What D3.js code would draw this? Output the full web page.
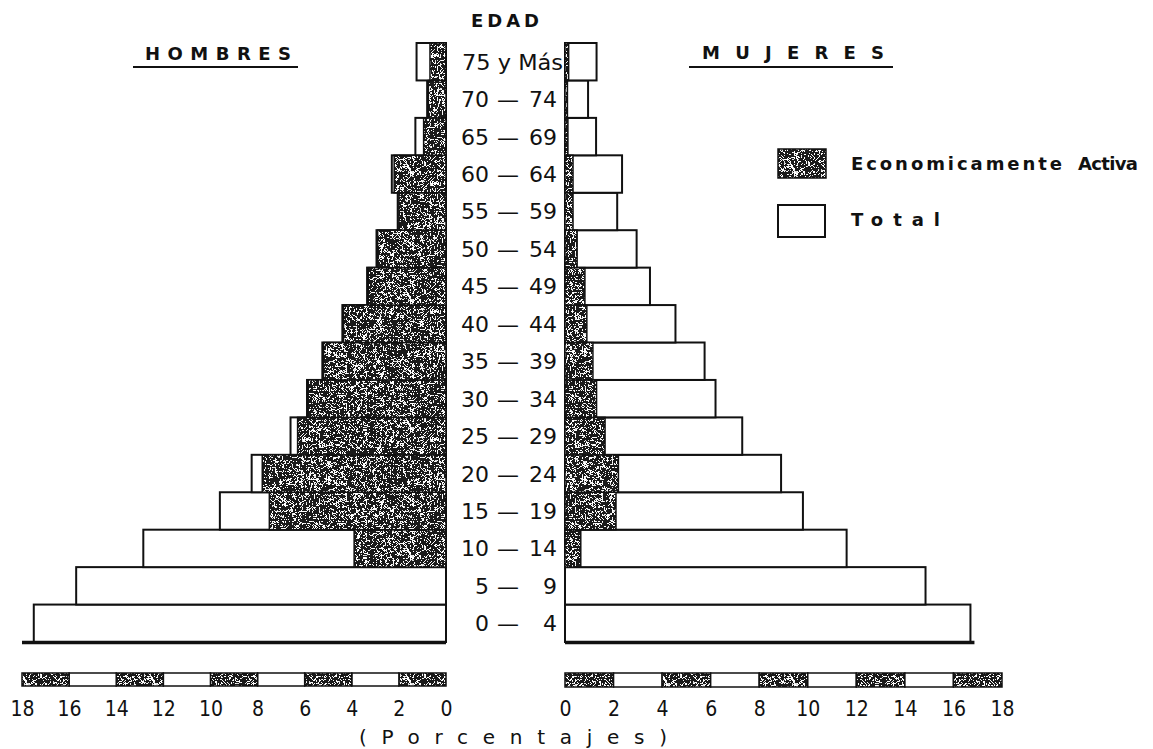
<!DOCTYPE html>
<html>
<head>
<meta charset="utf-8">
<script src="https://cdn.jsdelivr.net/npm/d3@7/dist/d3.min.js"></script>
<style>
  html, body { margin: 0; padding: 0; background: #fff; }
  svg { display: block; }
  text { font-family: "DejaVu Sans", sans-serif; fill: #111; }
</style>
</head>
<body>
<script>
// ---- Data (percentages) ----
const ageGroups = ["0 – 4", "5 – 9", "10 – 14", "15 – 19", "20 – 24", "25 – 29", "30 – 34", "35 – 39",
                   "40 – 44", "45 – 49", "50 – 54", "55 – 59", "60 – 64", "65 – 69", "70 – 74", "75 y Más"];
const maleTotal    = [17.5, 15.7, 12.85, 9.6, 8.25, 6.6, 5.9, 5.25, 4.4, 3.35, 2.95, 2.05, 2.3, 1.3, 0.8, 1.25];
const maleActive   = [0, 0, 3.9, 7.5, 7.8, 6.3, 5.85, 5.2, 4.35, 3.3, 2.9, 2.0, 2.2, 0.95, 0.75, 0.68];
const femaleTotal  = [16.7, 14.85, 11.6, 9.8, 8.9, 7.3, 6.2, 5.75, 4.55, 3.5, 2.95, 2.15, 2.35, 1.28, 0.95, 1.3];
const femaleActive = [0, 0, 0.65, 2.1, 2.2, 1.65, 1.3, 1.15, 0.9, 0.82, 0.5, 0.33, 0.33, 0.12, 0.1, 0.15];
const tickValues   = [0, 2, 4, 6, 8, 10, 12, 14, 16, 18];
const legendLabels = ["Economicamente", "Activa", "Total"];

// ---- SVG ----
const W = 1153, H = 749;
const svg = d3.select("body").append("svg").attr("width", W).attr("height", H);
const defs = svg.append("defs");

// worm-like scanned texture
const T = 128;
const f = defs.append("filter").attr("id", "worms")
  .attr("filterUnits", "userSpaceOnUse").attr("primitiveUnits", "userSpaceOnUse")
  .attr("x", 0).attr("y", 0).attr("width", T).attr("height", T);
f.append("feTurbulence").attr("type", "turbulence").attr("baseFrequency", 0.3)
  .attr("numOctaves", 1).attr("seed", 7).attr("stitchTiles", "stitch").attr("result", "n");
f.append("feColorMatrix").attr("in", "n").attr("type", "matrix")
  .attr("values", "0 0 0 0 1  0 0 0 0 1  0 0 0 0 1  -11 0 0 0 1.25").attr("result", "w");
const ct = f.append("feComponentTransfer").attr("in", "w").attr("result", "wt");
ct.append("feFuncA").attr("type", "discrete").attr("tableValues", "0 0 0.85 1");
f.append("feComposite").attr("in", "wt").attr("in2", "SourceGraphic").attr("operator", "in");

const pat = defs.append("pattern").attr("id", "tex").attr("patternUnits", "userSpaceOnUse")
  .attr("width", T).attr("height", T);
pat.append("rect").attr("width", T).attr("height", T).attr("fill", "#1a1a1a");
pat.append("rect").attr("width", T).attr("height", T).attr("fill", "#fff").attr("filter", "url(#worms)");

// ---- Scales ----
const xL = d3.scaleLinear().domain([0, 18]).range([446, 22]);
const xR = d3.scaleLinear().domain([0, 18]).range([565, 1002]);
const y = d3.scaleBand().domain(ageGroups).range([642, 43]).padding(0);
const bw = y.bandwidth();

const stroke = "#111";

// ---- Male bars ----
const gM = svg.append("g");
gM.selectAll("rect.tot").data(ageGroups).join("rect")
  .attr("x", (d, i) => xL(maleTotal[i])).attr("y", d => y(d))
  .attr("width", (d, i) => xL(0) - xL(maleTotal[i])).attr("height", bw)
  .attr("fill", "#fff").attr("stroke", stroke).attr("stroke-width", 2);
gM.selectAll("rect.act").data(ageGroups.filter((d, i) => maleActive[i] > 0)).join("rect")
  .attr("x", d => xL(maleActive[ageGroups.indexOf(d)])).attr("y", d => y(d))
  .attr("width", d => xL(0) - xL(maleActive[ageGroups.indexOf(d)])).attr("height", bw)
  .attr("fill", "url(#tex)").attr("stroke", stroke).attr("stroke-width", 1.5);

// ---- Female bars ----
const gF = svg.append("g");
gF.selectAll("rect.tot").data(ageGroups).join("rect")
  .attr("x", xR(0)).attr("y", d => y(d))
  .attr("width", (d, i) => xR(femaleTotal[i]) - xR(0)).attr("height", bw)
  .attr("fill", "#fff").attr("stroke", stroke).attr("stroke-width", 2);
gF.selectAll("rect.act").data(ageGroups.filter((d, i) => femaleActive[i] > 0)).join("rect")
  .attr("x", xR(0)).attr("y", d => y(d))
  .attr("width", d => xR(femaleActive[ageGroups.indexOf(d)]) - xR(0)).attr("height", bw)
  .attr("fill", "url(#tex)").attr("stroke", stroke).attr("stroke-width", 1.5);

// base lines
svg.append("line").attr("x1", xL(18)).attr("x2", xL(0)).attr("y1", 642.5).attr("y2", 642.5)
  .attr("stroke", stroke).attr("stroke-width", 3.5);
svg.append("line").attr("x1", xR(0)).attr("x2", xR(femaleTotal[0]) + 4).attr("y1", 642.5).attr("y2", 642.5)
  .attr("stroke", stroke).attr("stroke-width", 3.5);

// ---- Age labels ----
const gA = svg.append("g").style("font-size", "22px");
ageGroups.forEach(a => {
  const cy = y(a) + bw / 2 + 8;
  const parts = a.split(" – ");
  if (parts.length === 2) {
    gA.append("text").attr("x", 489).attr("y", cy).attr("text-anchor", "end").text(parts[0]);
    gA.append("text").attr("x", 508).attr("y", cy).attr("text-anchor", "middle").text("—");
    gA.append("text").attr("x", 557).attr("y", cy).attr("text-anchor", "end").text(parts[1]);
  } else {
    gA.append("text").attr("x", 462).attr("y", cy).attr("textLength", 101)
      .attr("lengthAdjust", "spacingAndGlyphs").text(a);
  }
});

// ---- Scale bars + axes ----
function scaleBar(x, y0, h) {
  const segs = d3.range(tickValues.length - 1).map(i => [tickValues[i], tickValues[i + 1], i]);
  const g = svg.append("g");
  g.selectAll("rect").data(segs).join("rect")
    .attr("x", d => Math.min(x(d[0]), x(d[1]))).attr("y", y0)
    .attr("width", d => Math.abs(x(d[1]) - x(d[0]))).attr("height", h)
    .attr("fill", d => d[2] % 2 === 0 ? "url(#tex)" : "#fff")
    .attr("stroke", stroke).attr("stroke-width", 1.5);
}
scaleBar(xL, 673, 13);
scaleBar(xR, 673, 14);

function axis(x) {
  const g = svg.append("g").attr("transform", "translate(0,686)")
    .call(d3.axisBottom(x).tickValues(tickValues).tickSize(0).tickPadding(15).tickFormat(d3.format("d")));
  g.select(".domain").remove();
  g.selectAll("text").style("font-family", "'DejaVu Sans Condensed', 'DejaVu Sans', sans-serif")
    .style("font-size", "21px").attr("fill", "#111");
}
axis(xL);
axis(xR);

svg.append("text").attr("x", 359).attr("y", 744).attr("textLength", 308).attr("lengthAdjust", "spacing")
  .style("font-size", "20px").text("(Porcentajes)");

// ---- Titles ----
svg.append("text").attr("x", 471).attr("y", 27).attr("textLength", 68).attr("lengthAdjust", "spacing")
  .style("font-size", "18px").style("font-weight", "bold").text("EDAD");
svg.append("text").attr("x", 145).attr("y", 60).attr("textLength", 146).attr("lengthAdjust", "spacing")
  .style("font-size", "18px").style("font-weight", "bold").text("HOMBRES");
svg.append("line").attr("x1", 133).attr("x2", 298).attr("y1", 67).attr("y2", 67)
  .attr("stroke", stroke).attr("stroke-width", 2.2);
svg.append("text").attr("x", 702).attr("y", 59).attr("textLength", 182).attr("lengthAdjust", "spacing")
  .style("font-size", "18px").style("font-weight", "bold").text("MUJERES");
svg.append("line").attr("x1", 689).attr("x2", 893).attr("y1", 67).attr("y2", 67)
  .attr("stroke", stroke).attr("stroke-width", 2.2);

// ---- Legend ----
svg.append("rect").attr("x", 778).attr("y", 149).attr("width", 48).attr("height", 29)
  .attr("fill", "url(#tex)").attr("stroke", stroke).attr("stroke-width", 1.5);
svg.append("text").attr("x", 851).attr("y", 170).attr("textLength", 211).attr("lengthAdjust", "spacing")
  .style("font-size", "18px").style("font-weight", "bold").text(legendLabels[0]);
svg.append("text").attr("x", 1078).attr("y", 170).attr("textLength", 60).attr("lengthAdjust", "spacing")
  .style("font-size", "18px").style("font-weight", "bold").text(legendLabels[1]);
svg.append("rect").attr("x", 778).attr("y", 205).attr("width", 47).attr("height", 32)
  .attr("fill", "#fff").attr("stroke", stroke).attr("stroke-width", 2);
svg.append("text").attr("x", 851).attr("y", 226).attr("textLength", 89).attr("lengthAdjust", "spacing")
  .style("font-size", "18px").style("font-weight", "bold").text(legendLabels[2]);
</script>
</body>
</html>
